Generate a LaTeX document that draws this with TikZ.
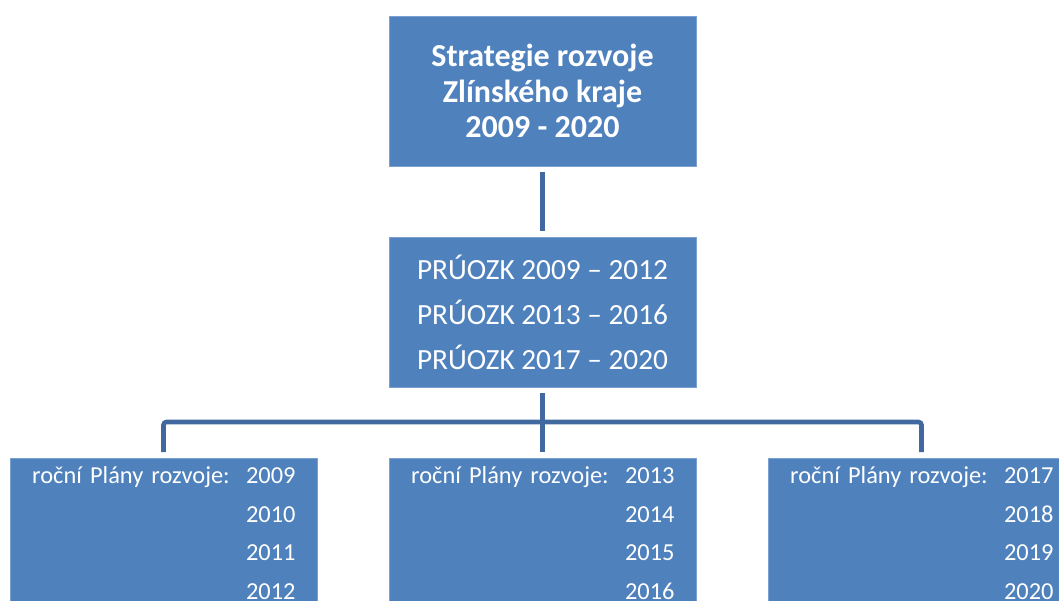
\documentclass[tikz,border=0pt]{standalone}
\usepackage{fontspec}
\setmainfont{Carlito}
\usepackage{tikz}
\usetikzlibrary{positioning}
\definecolor{boxblue}{RGB}{79,129,189}
\definecolor{lineblue}{RGB}{65,105,160}
\definecolor{edgeblue}{RGB}{125,160,210}
\tikzset{
  orgbox/.style={fill=boxblue, draw=edgeblue, line width=0.8pt, text=white,
    minimum width=307pt, minimum height=150pt, inner sep=0pt, outer sep=0pt},
  headbox/.style={orgbox, align=center, font=\fontsize{32}{35.5}\selectfont\bfseries},
  pruzbox/.style={orgbox, align=center, font=\fontsize{29.3}{45}\selectfont},
  planbox/.style={orgbox, text width=264pt, align=right, font=\fontsize{24.4}{38.5}\selectfont},
  conn/.style={draw=lineblue, line width=4.6pt, shorten <=6pt, shorten >=6pt},
}
\newcommand{\plany}[4]{ro\v{c}n\'{\i} Pl\'{a}ny rozvoje:~~#1\\#2\\#3\\#4}

\begin{document}
\begin{tikzpicture}[x=1pt, y=1pt, node distance=71pt and 72pt]
\useasboundingbox (0,0) rectangle (1059,-600);
\clip (0,0) rectangle (1059,-600);
% strategie a pruzkumy
\node[headbox] (strat) at (542.5,-91) {Strategie rozvoje\\Zlínského kraje\\2009 - 2020};
\node[pruzbox, below=of strat] (pruz) {PRÚOZK 2009 – 2012\\PRÚOZK 2013 – 2016\\PRÚOZK 2017 – 2020};
% rocni plany
\node[planbox, below=of pruz] (plan2) {\plany{2013}{2014}{2015}{2016}};
\node[planbox, left=of plan2] (plan1) {\plany{2009}{2010}{2011}{2012}};
\node[planbox, right=of plan2] (plan3) {\plany{2017}{2018}{2019}{2020}};
% spojnice
\coordinate[below=35pt of pruz.south] (bus);
\draw[conn] (strat) -- (pruz);
\draw[conn] (pruz) -- (plan2);
\draw[conn, shorten <=0pt, rounded corners=3pt] (bus) -| (plan1.north);
\draw[conn, shorten <=0pt, rounded corners=3pt] (bus) -| (plan3.north);
\end{tikzpicture}
\end{document}
